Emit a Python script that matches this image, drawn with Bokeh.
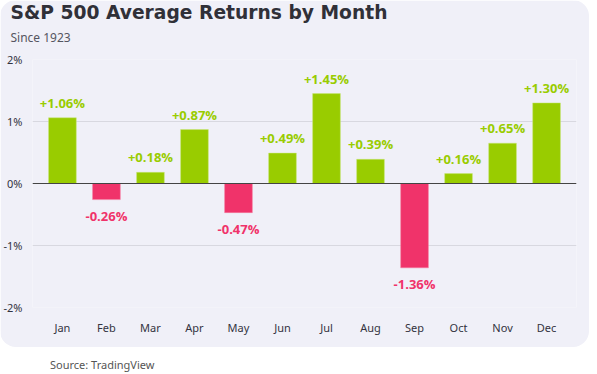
from bokeh.plotting import figure
from bokeh.models import ColumnDataSource, Range1d, FixedTicker, Span, Title, Div, CustomJSTickFormatter
from bokeh.layouts import column
from bokeh.core.properties import value
from bokeh.embed import file_html
from bokeh.resources import INLINE

months = ["Jan", "Feb", "Mar", "Apr", "May", "Jun", "Jul", "Aug", "Sep", "Oct", "Nov", "Dec"]
returns = [1.06, -0.26, 0.18, 0.87, -0.47, 0.49, 1.45, 0.39, -1.36, 0.16, 0.65, 1.30]
y_ticks = [-2, -1, 0, 1, 2]

GREEN = "#99cc00"
RED = "#f0336a"
PANEL = "#f0f0f8"

labels = [("+%.2f%%" % v) if v >= 0 else ("%.2f%%" % v) for v in returns]

pos = ColumnDataSource(dict(
    m=[m for m, v in zip(months, returns) if v >= 0],
    v=[v for v in returns if v >= 0],
    t=[l for l, v in zip(labels, returns) if v >= 0],
))
neg = ColumnDataSource(dict(
    m=[m for m, v in zip(months, returns) if v < 0],
    v=[v for v in returns if v < 0],
    t=[l for l, v in zip(labels, returns) if v < 0],
))

p = figure(
    x_range=months, y_range=Range1d(-2, 2),
    width=589, height=347,
    output_backend="svg", toolbar_location=None,
    min_border_left=32, min_border_right=13, min_border_top=59, min_border_bottom=40,
    background_fill_color=PANEL, border_fill_color=PANEL, outline_line_color=None,
)
p.styles = {"border-radius": "16px", "overflow": "hidden"}
p.x_range.range_padding = 0.18
p.x_range.range_padding_units = "absolute"

sub = Title(text="Since 1923", text_font="Noto Sans", text_font_size="12px",
            text_color="#555560", text_font_style="normal", offset=-22, standoff=28)
p.add_layout(sub, "above")
main = Title(text="S&P 500 Average Returns by Month", text_font="DejaVu Sans",
             text_font_size="18.7px", text_color="#303038", text_font_style="bold",
             offset=-22, standoff=-20)
p.add_layout(main, "above")

p.vbar(x="m", top="v", width=0.63, source=pos, color=GREEN, line_color="#c8e67a", line_width=0.5)
p.vbar(x="m", top="v", width=0.63, source=neg, color=RED, line_color="#f77fa0", line_width=0.5)

p.text(x="m", y="v", text="t", source=pos, text_align="center", text_baseline="bottom",
       y_offset=-6, text_color=GREEN, text_font=value("Open Sans"), text_font_size="13px",
       text_font_style="bold")
p.text(x="m", y="v", text="t", source=neg, text_align="center", text_baseline="top",
       y_offset=7, text_color=RED, text_font=value("Open Sans"), text_font_size="13px",
       text_font_style="bold")

p.add_layout(Span(location=0, dimension="width", line_color="#444444", line_width=1))

p.xgrid.grid_line_color = None
p.ygrid.grid_line_color = "#d8d8e0"
p.ygrid.grid_line_width = 1

p.yaxis.ticker = FixedTicker(ticks=y_ticks)
p.yaxis.formatter = CustomJSTickFormatter(code="return tick + '%';")
for ax in (p.xaxis[0], p.yaxis[0]):
    ax.axis_line_color = None
    ax.major_tick_line_color = None
    ax.minor_tick_line_color = None
    ax.major_tick_out = 0
    ax.major_tick_in = 0
    ax.minor_tick_out = 0
    ax.major_label_text_font = "Noto Sans"
    ax.major_label_text_font_size = "11px"
    ax.major_label_text_color = "#333340"
p.yaxis.major_label_standoff = 10
p.xaxis.major_label_standoff = 12

src = Div(text='<div style="position:relative; top:3px; padding-left:45px; line-height:19px;'
               ' font-family:\'Noto Sans\'; font-size:11px; color:#555555; white-space:nowrap;">'
               'Source: TradingView</div>',
          width=589, height=19, styles={"overflow": "visible"})

layout = column(p, src, spacing=0)
open("out.html", "w").write(file_html(layout, INLINE))
